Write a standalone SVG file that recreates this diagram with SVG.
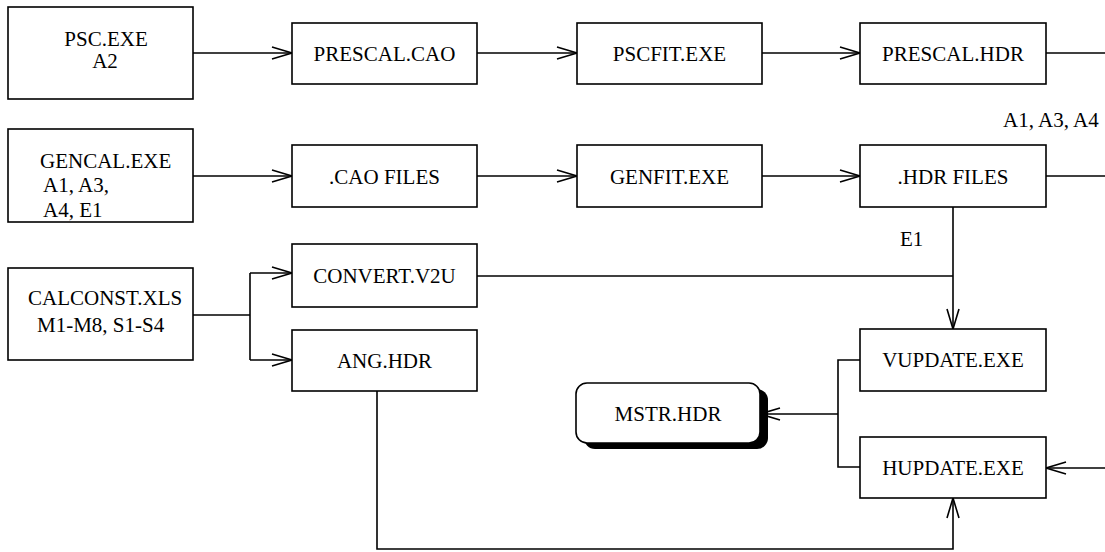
<svg xmlns="http://www.w3.org/2000/svg" width="1105" height="552" viewBox="0 0 1105 552">
<style>
  .box { fill: #fff; stroke: #000; stroke-width: 1.6; }
  text { font-family: 'Liberation Serif', 'DejaVu Serif', serif; font-size: 21px; fill: #000; }
  .c { text-anchor: middle; }
  .ln { fill: none; stroke: #000; stroke-width: 1.6; }
</style>
<defs>
  <marker id="arr" markerUnits="userSpaceOnUse" markerWidth="24" markerHeight="16" viewBox="-22 -8 24 16" refX="0" refY="0" orient="auto">
    <path d="M-20,-6 L0,0 L-20,6" fill="none" stroke="#000" stroke-width="1.6"/>
  </marker>
</defs>
<rect width="1105" height="552" fill="#fff"/>

<g id="connectors">
  <line class="ln" x1="193" y1="53" x2="292" y2="53" marker-end="url(#arr)"/>
  <line class="ln" x1="477" y1="53" x2="577" y2="53" marker-end="url(#arr)"/>
  <line class="ln" x1="762" y1="53" x2="860" y2="53" marker-end="url(#arr)"/>
  <line class="ln" x1="1046" y1="53" x2="1105" y2="53"/>

  <line class="ln" x1="193" y1="176" x2="292" y2="176" marker-end="url(#arr)"/>
  <line class="ln" x1="477" y1="176" x2="577" y2="176" marker-end="url(#arr)"/>
  <line class="ln" x1="762" y1="176" x2="860" y2="176" marker-end="url(#arr)"/>
  <line class="ln" x1="1046" y1="176" x2="1105" y2="176"/>

  <line class="ln" x1="193" y1="315" x2="250" y2="315"/>
  <line class="ln" x1="250" y1="273" x2="250" y2="360"/>
  <line class="ln" x1="250" y1="273" x2="292" y2="273" marker-end="url(#arr)"/>
  <line class="ln" x1="250" y1="360" x2="292" y2="360" marker-end="url(#arr)"/>

  <line class="ln" x1="477" y1="276" x2="953" y2="276"/>
  <line class="ln" x1="953" y1="207" x2="953" y2="329" marker-end="url(#arr)"/>

  <polyline class="ln" points="860,360 838,360 838,467 860,467"/>
  <line class="ln" x1="838" y1="414" x2="760" y2="414" marker-end="url(#arr)"/>

  <line class="ln" x1="1105" y1="468" x2="1046" y2="468" marker-end="url(#arr)"/>
  <polyline class="ln" points="377,391 377,549 953,549 953,498" marker-end="url(#arr)"/>

  <text x="1003" y="127" font-family="Liberation Serif, serif">A1, A3, A4</text>
  <text x="900" y="246" font-family="Liberation Serif, serif">E1</text>
</g>

<g id="psc">
  <rect class="box" x="8" y="7" width="185" height="92"/>
  <text class="c" x="106" y="46" font-family="Liberation Serif, serif">PSC.EXE</text>
  <text class="c" x="105" y="68" font-family="Liberation Serif, serif">A2</text>
</g>
<g id="prescal-cao">
  <rect class="box" x="292" y="23" width="185" height="61"/>
  <text class="c" x="384.5" y="61" font-family="Liberation Serif, serif">PRESCAL.CAO</text>
</g>
<g id="pscfit">
  <rect class="box" x="577" y="23" width="185" height="61"/>
  <text class="c" x="669.5" y="61" font-family="Liberation Serif, serif">PSCFIT.EXE</text>
</g>
<g id="prescal-hdr">
  <rect class="box" x="860" y="23" width="186" height="61"/>
  <text class="c" x="953" y="61" font-family="Liberation Serif, serif">PRESCAL.HDR</text>
</g>

<g id="gencal">
  <rect class="box" x="8" y="129" width="185" height="93"/>
  <text x="40" y="168" font-family="Liberation Serif, serif">GENCAL.EXE</text>
  <text x="43" y="192" font-family="Liberation Serif, serif">A1, A3,</text>
  <text x="43" y="217" font-family="Liberation Serif, serif">A4, E1</text>
</g>
<g id="cao-files">
  <rect class="box" x="292" y="145" width="185" height="62"/>
  <text class="c" x="384.5" y="184" font-family="Liberation Serif, serif">.CAO FILES</text>
</g>
<g id="genfit">
  <rect class="box" x="577" y="145" width="185" height="62"/>
  <text class="c" x="669.5" y="184" font-family="Liberation Serif, serif">GENFIT.EXE</text>
</g>
<g id="hdr-files">
  <rect class="box" x="860" y="145" width="186" height="62"/>
  <text class="c" x="953" y="184" font-family="Liberation Serif, serif">.HDR FILES</text>
</g>

<g id="calconst">
  <rect class="box" x="8" y="268" width="185" height="92"/>
  <text x="28" y="305" font-family="Liberation Serif, serif">CALCONST.XLS</text>
  <text x="37" y="332" font-family="Liberation Serif, serif">M1-M8, S1-S4</text>
</g>
<g id="convert">
  <rect class="box" x="292" y="244" width="185" height="63"/>
  <text class="c" x="384.5" y="283" font-family="Liberation Serif, serif">CONVERT.V2U</text>
</g>
<g id="ang">
  <rect class="box" x="292" y="330" width="185" height="61"/>
  <text class="c" x="384.5" y="368" font-family="Liberation Serif, serif">ANG.HDR</text>
</g>

<g id="vupdate">
  <rect class="box" x="860" y="329" width="186" height="62"/>
  <text class="c" x="953" y="367" font-family="Liberation Serif, serif">VUPDATE.EXE</text>
</g>
<g id="hupdate">
  <rect class="box" x="860" y="437" width="186" height="61"/>
  <text class="c" x="953" y="475" font-family="Liberation Serif, serif">HUPDATE.EXE</text>
</g>
<g id="mstr">
  <rect x="584" y="389" width="184" height="60" rx="11" fill="#000"/>
  <rect class="box" x="576" y="383" width="184" height="60" rx="11"/>
  <text class="c" x="668" y="421" font-family="Liberation Serif, serif">MSTR.HDR</text>
</g>
</svg>
